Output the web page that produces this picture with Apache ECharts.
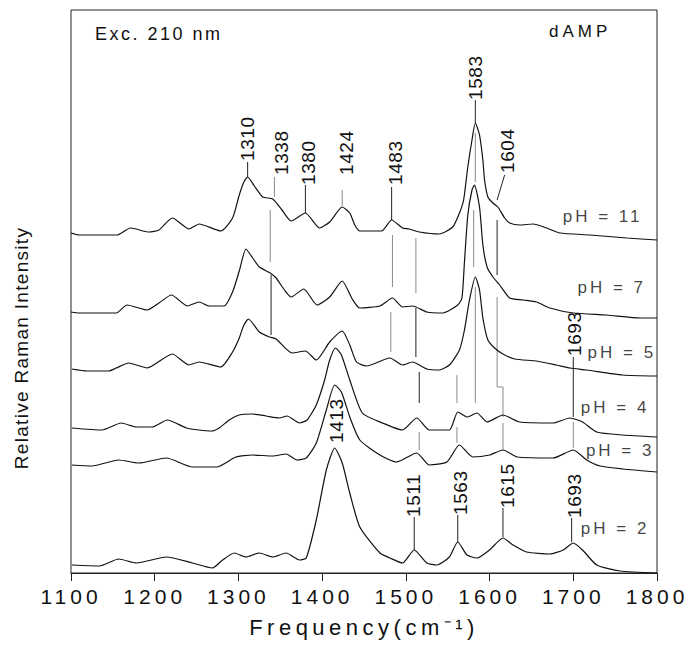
<!DOCTYPE html>
<html><head><meta charset="utf-8">
<script src="https://cdn.jsdelivr.net/npm/echarts@6/dist/echarts.min.js"></script>
<style>html,body{margin:0;padding:0;background:#fff}#c{width:696px;height:646px}</style>
</head><body><div id="c"></div>
<script>
const xTicks = [1100, 1200, 1300, 1400, 1500, 1600, 1700, 1800];
const traceNames = ['pH = 11', 'pH = 7', 'pH = 5', 'pH = 4', 'pH = 3', 'pH = 2'];

const ph11 = [[1100,340],[1110,338],[1155,338],[1171,345],[1193,341],[1205,343],[1221,355],[1241,344],[1253,349],[1279,342],[1293,355],[1301,378],[1306,390],[1311,396],[1319,387],[1329,376],[1341,374],[1352,363],[1363,352],[1380,360],[1397,345],[1409,351],[1424,366],[1433,360],[1439,348],[1445,342],[1471,342],[1483,353],[1496,345],[1504,344],[1516,341],[1540,339],[1556,346],[1564,360],[1569,373],[1574,406],[1579,433],[1583,450],[1588,438],[1592,413],[1594,393],[1598,376],[1604,370],[1610,366],[1618,355],[1624,350],[1636,348],[1652,349],[1668,345],[1684,340],[1720,338],[1764,335],[1800,333]];
const ph7 = [[1100,261],[1110,260],[1154,260],[1167,268],[1191,263],[1205,270],[1220,278],[1239,267],[1253,271],[1265,267],[1283,267],[1293,281],[1301,302],[1309,324],[1317,315],[1325,306],[1338,300],[1345,295],[1355,283],[1363,276],[1378,284],[1394,268],[1409,276],[1424,292],[1436,274],[1445,265],[1469,267],[1484,275],[1496,266],[1508,267],[1525,261],[1544,260],[1562,268],[1567,275],[1570,311],[1574,358],[1579,383],[1582,388],[1588,366],[1592,328],[1597,306],[1604,296],[1612,288],[1624,275],[1640,273],[1656,271],[1672,265],[1700,260],[1740,258],[1780,255],[1800,255]];
const ph5 = [[1101,204],[1119,202],[1145,202],[1154,205],[1169,210],[1191,205],[1221,219],[1241,208],[1253,211],[1279,206],[1293,221],[1301,235],[1306,247],[1312,254],[1325,241],[1337,236],[1345,234],[1364,220],[1380,222],[1393,213],[1409,231],[1424,242],[1433,228],[1441,211],[1453,207],[1481,215],[1496,208],[1508,211],[1525,204],[1540,203],[1552,208],[1564,223],[1570,243],[1576,273],[1583,296],[1588,283],[1592,255],[1598,233],[1606,225],[1616,219],[1630,214],[1656,212],[1680,208],[1696,205],[1716,203],[1759,198],[1800,197]];
const ph4 = [[1101,145],[1137,143],[1160,150],[1178,146],[1197,146],[1215,153],[1238,145],[1253,143],[1268,142],[1277,145],[1289,153],[1301,158],[1317,159],[1333,157],[1349,155],[1358,157],[1373,150],[1382,153],[1393,168],[1403,193],[1409,213],[1416,225],[1423,218],[1433,193],[1448,160],[1472,150],[1496,143],[1513,155],[1528,143],[1552,143],[1562,161],[1573,156],[1585,160],[1597,151],[1616,158],[1636,151],[1676,150],[1696,155],[1711,151],[1728,141],[1759,138],[1800,136]];
const ph3 = [[1101,108],[1125,107],[1157,113],[1181,110],[1214,115],[1245,106],[1274,106],[1297,116],[1317,118],[1341,117],[1357,119],[1370,113],[1381,115],[1393,130],[1405,163],[1415,188],[1423,181],[1433,156],[1445,133],[1469,118],[1489,111],[1513,120],[1528,108],[1549,111],[1564,128],[1580,116],[1600,118],[1616,123],[1633,116],[1676,115],[1700,123],[1716,113],[1732,107],[1759,104],[1800,101]];
const ph2 = [[1101,8],[1134,7],[1157,14],[1178,10],[1214,16],[1245,10],[1269,5],[1281,13],[1295,20],[1309,16],[1325,20],[1341,16],[1357,20],[1373,13],[1381,15],[1393,53],[1405,103],[1415,125],[1424,110],[1433,80],[1445,46],[1469,20],[1481,15],[1496,10],[1510,23],[1525,10],[1537,8],[1552,16],[1562,31],[1573,18],[1585,15],[1600,23],[1616,35],[1628,28],[1644,21],[1672,19],[1688,23],[1700,30],[1711,23],[1728,8],[1756,2],[1800,0]];

const phLabels = [[1735,357,'pH = 11'],[1746,286,'pH = 7'],[1758,221,'pH = 5'],[1750,166,'pH = 4'],[1756,123,'pH = 3'],[1750,45,'pH = 2']];
// [frequency of label centre line, intensity at the label's lower end, text]
const peakLabels = [[1311,412,'1310'],[1352,398,'1338'],[1384,388,'1380'],[1429,398,'1424'],[1488,388,'1483'],[1583,473,'1583'],[1622,400,'1604'],[1701,217,'1693'],[1417,130,'1413'],[1509,56,'1511'],[1565,58,'1563'],[1622,65,'1615'],[1702,55,'1693']];

const darkLeaders = [
  [[1311,396],[1311,411]], [[1380,360],[1380,388]], [[1483,353],[1483,386]], [[1583,450],[1583,473]],
  [[1609,373],[1618,398]], [[1339,298],[1339,238]], [[1609,353],[1609,298]], [[1512,265],[1512,216]],
  [[1516,201],[1516,170]], [[1700,216],[1700,156]], [[1510,56],[1510,23]], [[1562,58],[1562,31]],
  [[1616,65],[1616,36]], [[1698,55],[1698,31]]
];
const grayLeaders = [
  [[1343,396],[1343,376]], [[1424,383],[1424,367]], [[1338,363],[1338,311]], [[1484,338],[1484,286]],
  [[1512,335],[1512,280]], [[1482,261],[1482,221]], [[1583,440],[1583,391]], [[1581,363],[1581,306]],
  [[1583,286],[1583,170]], [[1609,276],[1609,186],[1616,186],[1616,156]], [[1561,198],[1561,170]],
  [[1516,141],[1516,123]], [[1561,146],[1561,130]], [[1616,150],[1616,123]], [[1700,151],[1700,125]]
];

const FONT = "'Liberation Sans', Arial, sans-serif";
const traces = [ph11, ph7, ph5, ph4, ph3, ph2];

const series = [];
darkLeaders.forEach(d => series.push({type:'line', data:d, symbol:'none', silent:true, lineStyle:{color:'#222', width:1}, z:1}));
grayLeaders.forEach(d => series.push({type:'line', data:d, symbol:'none', silent:true, lineStyle:{color:'#8a8a8a', width:1}, z:1}));
traces.forEach((d, i) => series.push({type:'line', name:traceNames[i], data:d, symbol:'none', smooth:0.2, lineStyle:{color:'#111', width:1.2}, z:3}));
series.push({type:'scatter', data:phLabels, symbolSize:1, itemStyle:{color:'transparent'}, silent:true, z:4,
  label:{show:true, position:'inside', formatter:p=>p.data[2], fontSize:17, fontFamily:FONT, color:'#111', align:'center', verticalAlign:'middle'}});
series.push({type:'custom', data:peakLabels, silent:true, z:4, clip:false,
  renderItem:(params, api) => {
    const p = api.coord([api.value(0), api.value(1)]);
    return {type:'text', x:p[0], y:p[1], rotation:Math.PI/2,
      style:{text:peakLabels[params.dataIndex][2], font:'19px '+FONT, fill:'#111', align:'left', verticalAlign:'middle'}};
  }});

const chart = echarts.init(document.getElementById('c'), null, {renderer:'svg'});
chart.setOption({
  animation:false,
  backgroundColor:'#fff',
  grid:{left:71, right:39, top:10, bottom:73, show:true, borderColor:'#222', borderWidth:1, backgroundColor:'transparent'},
  xAxis:{type:'value', min:xTicks[0], max:xTicks[xTicks.length-1], interval:100,
    axisLine:{show:true, lineStyle:{color:'#222', width:1}},
    axisTick:{show:true, inside:false, length:8, lineStyle:{color:'#222'}},
    axisLabel:{fontSize:21, fontFamily:FONT, color:'#111', margin:13, formatter:v=>String(v)},
    splitLine:{show:false},
    name:'Frequency(cm\u207B\u00B9)', nameLocation:'middle', nameGap:43,
    nameTextStyle:{fontSize:22, fontFamily:FONT, color:'#111'}},
  yAxis:{type:'value', min:0, max:563, show:false},
  graphic:[
    {type:'text', left:95, top:25, style:{text:'Exc. 210 nm', font:'18px '+FONT, fill:'#111'}},
    {type:'text', left:549, top:23, style:{text:'dAMP', font:'17px '+FONT, fill:'#111'}},
    {type:'text', x:21, y:348, rotation:Math.PI/2, style:{text:'Relative Raman Intensity', font:'19px '+FONT, fill:'#111', align:'center', verticalAlign:'middle'}}
  ],
  series:series
});

function applySpacing(){
  document.querySelectorAll('#c svg text').forEach(t=>{
    const s=t.textContent; let ls=0.6;
    if(/^1[1-8]00$/.test(s)) ls=4;
    else if(s.indexOf('Frequency')===0) ls=4.5;
    else if(s.indexOf('Exc')===0) ls=2.5;
    else if(s==='dAMP') ls=4;
    else if(s.indexOf('pH')===0) ls=3;
    else if(s.indexOf('Relative')===0) ls=1.3;
    t.style.letterSpacing = ls+'px';
  });
}
chart.on('finished', applySpacing);
applySpacing();
setTimeout(applySpacing, 50);
</script></body></html>
